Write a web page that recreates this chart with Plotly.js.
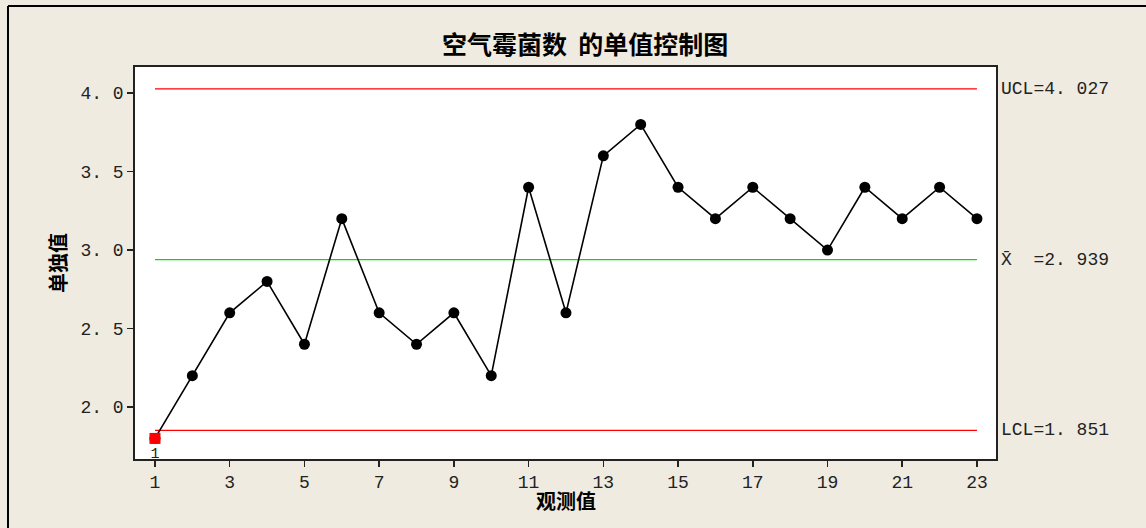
<!DOCTYPE html>
<html>
<head>
<meta charset="utf-8">
<script src="https://cdn.plot.ly/plotly-3.0.1.min.js"></script>
<style>
html,body{margin:0;padding:0;background:#EFEBE1;}
#chart{width:1146px;height:528px;}
</style>
</head>
<body>
<div id="chart"></div>
<script>
// Data
var observations = [1,2,3,4,5,6,7,8,9,10,11,12,13,14,15,16,17,18,19,20,21,22,23];
var values = [1.8,2.2,2.6,2.8,2.4,3.2,2.6,2.4,2.6,2.2,3.4,2.6,3.6,3.8,3.4,3.2,3.4,3.2,3.0,3.4,3.2,3.4,3.2];
var UCL = 4.027;
var MEAN = 2.939;
var LCL = 1.851;
var flaggedObs = [1];
var flaggedVals = [1.8];
var flaggedLabels = ["1"];
var xTickVals = [1,3,5,7,9,11,13,15,17,19,21,23];
var yTickVals = [2.0,2.5,3.0,3.5,4.0];
var yTickText = ["2. 0","2. 5","3. 0","3. 5","4. 0"];

function fmt(v){ return v.toFixed(3).replace('.', '. '); }

var numFont = "Liberation Mono, DejaVu Sans Mono, monospace";
var cjk = "Noto Sans CJK SC, sans-serif";
var xFirst = observations[0], xLast = observations[observations.length-1];

var traces = [
  {x:[xFirst,xLast], y:[UCL,UCL], mode:'lines', line:{color:'#FF0000', width:1.2}, hoverinfo:'skip'},
  {x:[xFirst,xLast], y:[MEAN,MEAN], mode:'lines', line:{color:'#00E000', width:1.2}, hoverinfo:'skip'},
  {x:[xFirst,xLast], y:[LCL,LCL], mode:'lines', line:{color:'#FF0000', width:1.2}, hoverinfo:'skip'},
  {x:observations, y:values, mode:'lines+markers', line:{color:'#000000', width:1.6},
   marker:{symbol:'circle', size:11, color:'#000000'}},
  {x:flaggedObs, y:flaggedVals, mode:'markers+text', text:flaggedLabels, textposition:'bottom center',
   textfont:{family:numFont, size:15, color:'#222'},
   marker:{symbol:'square', size:11, color:'#FF0000'}}
];

var layout = {
  width:1146, height:528,
  paper_bgcolor:'#EFEBE1', plot_bgcolor:'#FFFFFF',
  showlegend:false,
  margin:{l:135, r:150, t:67, b:69},
  xaxis:{range:[0.465,23.51], tickvals:xTickVals, ticks:'outside', ticklen:6, tickwidth:1.5, tickcolor:'#222',
         showline:true, mirror:true, linecolor:'#222', linewidth:1.8, showgrid:false, zeroline:false,
         tickfont:{family:numFont, size:18, color:'#222'}},
  yaxis:{range:[1.669,4.166], tickvals:yTickVals, ticktext:yTickText, ticks:'outside', ticklen:6, tickwidth:1.5, tickcolor:'#222',
         showline:true, mirror:true, linecolor:'#222', linewidth:1.8, showgrid:false, zeroline:false,
         tickfont:{family:numFont, size:18, color:'#222'}},
  annotations:[
    {xref:'paper', yref:'paper', x:0.523, y:1, yshift:24, xanchor:'center', yanchor:'middle', showarrow:false,
     text:'空气霉菌数  的单值控制图', font:{family:cjk, size:25, color:'#000', weight:'bold'}},
    {xref:'paper', yref:'paper', x:0.5, y:-0.1046, xanchor:'center', yanchor:'middle', showarrow:false,
     text:'观测值', font:{family:cjk, size:20, color:'#000', weight:'bold'}},
    {xref:'paper', yref:'paper', x:-0.0906, y:0.5, xanchor:'center', yanchor:'middle', showarrow:false, textangle:-90,
     text:'单独值', font:{family:cjk, size:20, color:'#000', weight:'bold'}},
    {xref:'paper', yref:'y', x:1, xshift:3, y:UCL, xanchor:'left', yanchor:'middle', showarrow:false,
     text:'UCL='+fmt(UCL), font:{family:numFont, size:18, color:'#222'}},
    {xref:'paper', yref:'y', x:1, xshift:3, y:MEAN, xanchor:'left', yanchor:'middle', showarrow:false,
     text:'X\u0304  ='+fmt(MEAN), font:{family:numFont, size:18, color:'#222'}},
    {xref:'paper', yref:'y', x:1, xshift:3, y:LCL, xanchor:'left', yanchor:'middle', showarrow:false,
     text:'LCL='+fmt(LCL), font:{family:numFont, size:18, color:'#222'}}
  ],
  shapes:[
    {type:'line', xref:'paper', yref:'paper', x0:-0.1475, x1:1.2, y0:1.1556, y1:1.1556, line:{color:'#000', width:2}},
    {type:'line', xref:'paper', yref:'paper', x0:-0.1475, x1:-0.1475, y0:1.1556, y1:-0.3, line:{color:'#000', width:2}}
  ]
};

Plotly.newPlot('chart', traces, layout, {displayModeBar:false, staticPlot:true});
</script>
</body>
</html>
